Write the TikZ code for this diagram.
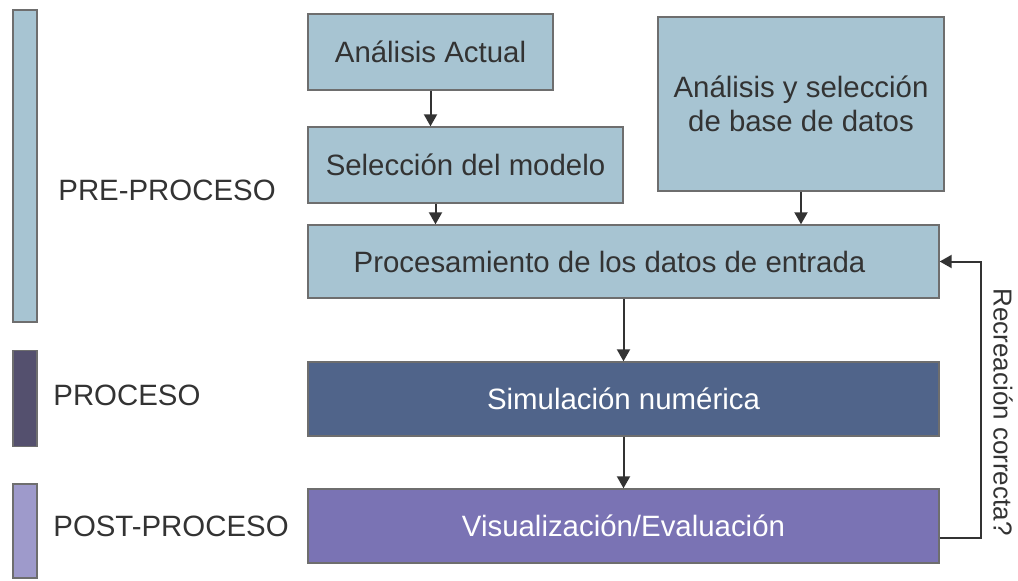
\documentclass[tikz,border=0pt]{standalone}
\usepackage{fontspec}
\setmainfont{Liberation Sans}
\usetikzlibrary{positioning,arrows.meta,calc}

\definecolor{preblue}{HTML}{A7C4D2}
\definecolor{simblue}{HTML}{50648A}
\definecolor{postviolet}{HTML}{7A73B4}
\definecolor{procbar}{HTML}{54506E}
\definecolor{postbar}{HTML}{9E9ACB}
\definecolor{edgegray}{HTML}{6E6E6E}
\definecolor{inkgray}{HTML}{333333}

\begin{document}
\begin{tikzpicture}[
    x=0.5pt, y=-0.5pt,
    font=\fontsize{14.7pt}{17pt}\selectfont,
    stage/.style={rectangle, draw=edgegray, line width=0.7pt, inner sep=0pt, align=center, text=inkgray},
    prebox/.style={stage, fill=preblue},
    bar/.style={rectangle, draw=edgegray, line width=0.7pt, inner sep=0pt, minimum width=12pt},
    phase/.style={anchor=west, text=inkgray, inner sep=0pt},
    arrow/.style={-{Triangle[length=6pt,width=6.5pt]}, line width=1pt, inkgray},
]
    \useasboundingbox (0,0) rectangle (1018,580);

    % Phase bars and names
    \node[bar, fill=preblue, minimum height=156pt] (prebar) at (25,166) {};
    \node[bar, fill=procbar, minimum height=48pt] (procbar) at (25,398.5) {};
    \node[bar, fill=postbar, minimum height=47pt] (postbar) at (25,531) {};
    \node[phase] (prelabel) at (58,190) {PRE-PROCESO};
    \node[phase] (proclabel) at (53,395) {PROCESO};
    \node[phase] (postlabel) at (53,526) {POST-PROCESO};

    % Pre-processing
    \node[prebox, minimum width=122.5pt, minimum height=38pt] (actual) at (430.5,52) {Análisis Actual};
    \node[prebox, minimum width=157.5pt, minimum height=38pt] (modelo) at (465.5,165) {Selección del modelo};
    \node[prebox, minimum width=143pt, minimum height=87pt] (base) at (801,104) {Análisis y selección\\de base de datos};
    \node[prebox, minimum width=315.5pt, minimum height=36.5pt] (entrada) at (623.5,261.5) {Procesamiento de los datos de entrada\hspace*{14pt}};

    % Processing and post-processing
    \node[stage, fill=simblue, text=white, minimum width=315.5pt, minimum height=37pt] (simul) at (623.5,399) {Simulación numérica};
    \node[stage, fill=postviolet, text=white, minimum width=315.5pt, minimum height=37pt] (visual) at (623.5,526) {Visualización/Evaluación};

    % Arrows
    \draw[arrow] (actual.south) -- (actual.south |- modelo.north);
    \draw[arrow] ([xshift=-15pt]modelo.south) coordinate (msouth) -- (msouth |- entrada.north);
    \draw[arrow] (base.south) -- (base.south |- entrada.north);
    \draw[arrow] (entrada) -- (simul);
    \draw[arrow] (simul) -- (visual);

    % Feedback loop
    \draw[arrow] ([yshift=-6pt]visual.east) -- ++(41,0) coordinate (loop) |- (entrada.east);
    \node[rotate=-90, text=inkgray, font=\fontsize{13pt}{15pt}\selectfont] (check) at (1003,412) {Recreación correcta?};
\end{tikzpicture}
\end{document}
